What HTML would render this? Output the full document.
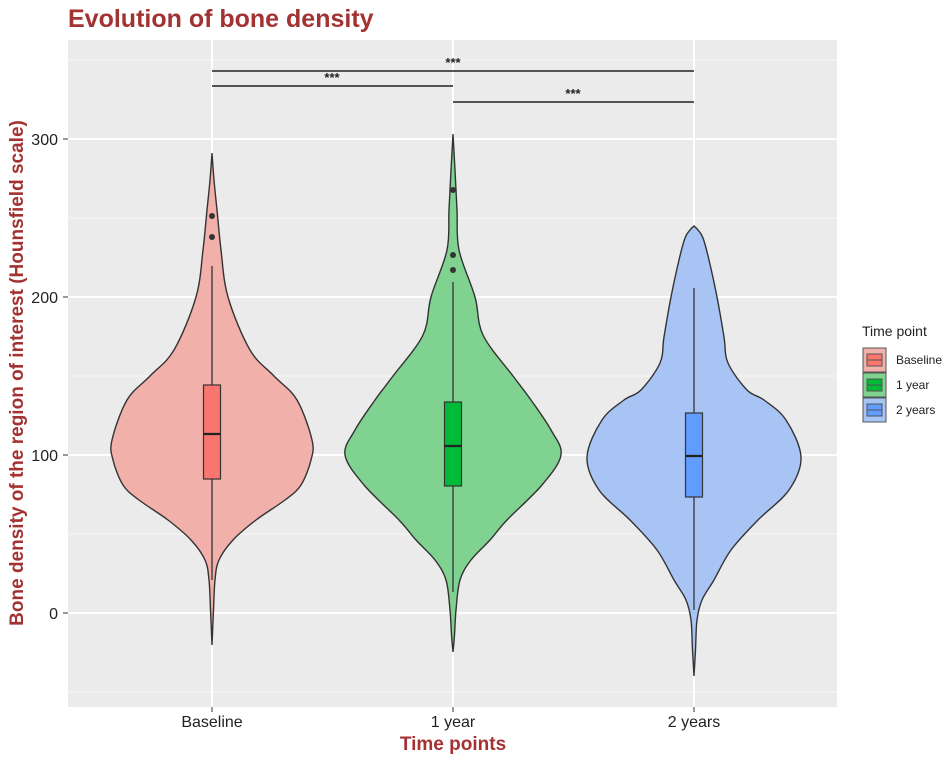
<!DOCTYPE html>
<html><head><meta charset="utf-8">
<style>
html,body{margin:0;padding:0;background:#fff;}
svg{display:block;font-family:"Liberation Sans",Arial,sans-serif;}
</style></head>
<body>
<svg id="s" width="949" height="758" viewBox="0 0 949 758" xmlns="http://www.w3.org/2000/svg">
<rect x="0" y="0" width="949" height="758" fill="#fff"/>
<text x="68" y="27" font-size="25" font-weight="bold" fill="#a33232">Evolution of bone density</text>
<rect x="68" y="40" width="769" height="667" fill="#ebebeb"/>
<g stroke="#f7f7f7" stroke-width="1">
<line x1="68" x2="837" y1="60" y2="60"/><line x1="68" x2="837" y1="218" y2="218"/>
<line x1="68" x2="837" y1="376" y2="376"/><line x1="68" x2="837" y1="534" y2="534"/>
<line x1="68" x2="837" y1="692" y2="692"/>
</g>
<g stroke="#fff" stroke-width="2">
<line x1="68" x2="837" y1="139" y2="139"/><line x1="68" x2="837" y1="297" y2="297"/>
<line x1="68" x2="837" y1="455" y2="455"/><line x1="68" x2="837" y1="613" y2="613"/>
<line x1="212" x2="212" y1="40" y2="707"/><line x1="453" x2="453" y1="40" y2="707"/>
<line x1="694" x2="694" y1="40" y2="707"/>
</g>
<g id="v"></g>
<g stroke="#222" stroke-width="1.6">
<line x1="212" x2="694" y1="71" y2="71"/>
<line x1="212" x2="453" y1="86" y2="86"/>
<line x1="453" x2="694" y1="102" y2="102"/>
</g>
<g font-size="13" font-weight="bold" fill="#222" text-anchor="middle">
<text x="453" y="67">***</text><text x="332" y="82">***</text><text x="573" y="98">***</text>
</g>
<g font-size="16" fill="#222" text-anchor="end">
<text x="58" y="145">300</text><text x="58" y="303">200</text><text x="58" y="461">100</text><text x="58" y="619">0</text>
</g>
<g stroke="#333" stroke-width="1">
<line x1="63" x2="68" y1="139" y2="139"/><line x1="63" x2="68" y1="297" y2="297"/>
<line x1="63" x2="68" y1="455" y2="455"/><line x1="63" x2="68" y1="613" y2="613"/>
<line x1="212" x2="212" y1="707" y2="712"/><line x1="453" x2="453" y1="707" y2="712"/><line x1="694" x2="694" y1="707" y2="712"/>
</g>
<g font-size="16" fill="#222" text-anchor="middle">
<text x="212" y="727">Baseline</text><text x="453" y="727">1 year</text><text x="694" y="727">2 years</text>
</g>
<text x="453" y="750" font-size="19" font-weight="bold" fill="#a33232" text-anchor="middle">Time points</text>
<text transform="translate(23,373) rotate(-90)" font-size="19" font-weight="bold" fill="#a33232" text-anchor="middle">Bone density of the region of interest (Hounsfield scale)</text>
<text x="862" y="336" font-size="14" fill="#222">Time point</text>
<g stroke="#555" stroke-width="1">
<rect x="863" y="348" width="23" height="24" fill="#f2b0aa"/>
<rect x="863" y="373" width="23" height="24" fill="#7fd28f"/>
<rect x="863" y="398" width="23" height="24" fill="#a8c4f5"/>
<rect x="867" y="354" width="15" height="12" fill="#f8766d"/>
<rect x="867" y="379" width="15" height="12" fill="#00ba38"/>
<rect x="867" y="404" width="15" height="12" fill="#619cff"/>
<line x1="867" x2="882" y1="360" y2="360"/><line x1="867" x2="882" y1="385" y2="385"/><line x1="867" x2="882" y1="410" y2="410"/>
</g>
<g font-size="12" fill="#222">
<text x="896" y="364">Baseline</text><text x="896" y="389">1 year</text><text x="896" y="414">2 years</text>
</g>
</svg>
<script>
var data=[
{cx:212,fill:"#f2b0aa",box:"#f8766d",prof:[[153,0],[180,2],[210,5],[250,9],[297,16],[350,38],[376,62],[400,85],[440,100],[460,99],[485,89],[500,73],[520,44],[540,21],[560,7],[580,3],[610,1.5],[645,0]],
 q:[385,434,479],w:[266,580],out:[216,237]},
{cx:453,fill:"#7fd28f",box:"#00ba38",prof:[[134,0],[170,2],[210,4],[250,6],[297,22],[335,30],[376,60],[400,78],[430,98],[455,108],[485,89],[520,54],[540,37],[560,18],[580,7],[610,3],[635,1.5],[652,0]],
 q:[402,446,486],w:[282,592],out:[190,255,270]},
{cx:694,fill:"#a8c4f5",box:"#619cff",prof:[[226,0],[230,4],[238,9],[260,15],[297,23],[337,30],[363,34],[390,53],[400,70],[420,92],[457,107],[490,95],[520,64],[550,37],[580,20],[600,8],[620,3],[650,1.5],[676,0]],
 q:[413,456,497],w:[288,610],out:[]}
];
var ns="http://www.w3.org/2000/svg",g=document.getElementById("v");
function el(t,a){var e=document.createElementNS(ns,t);for(var k in a)e.setAttribute(k,a[k]);g.appendChild(e);return e;}
function cr(pts){var d="M"+pts[0][0]+","+pts[0][1];
for(var i=0;i<pts.length-1;i++){var p0=pts[Math.max(0,i-1)],p1=pts[i],p2=pts[i+1],p3=pts[Math.min(pts.length-1,i+2)];
var c1=[p1[0]+(p2[0]-p0[0])/6,p1[1]+(p2[1]-p0[1])/6],c2=[p2[0]-(p3[0]-p1[0])/6,p2[1]-(p3[1]-p1[1])/6];
d+=" C"+c1[0].toFixed(1)+","+c1[1].toFixed(1)+" "+c2[0].toFixed(1)+","+c2[1].toFixed(1)+" "+p2[0]+","+p2[1];}
return d;}
data.forEach(function(o){
 var r=o.prof.map(function(p){return [o.cx+p[1],p[0]];});
 var l=o.prof.slice().reverse().map(function(p){return [o.cx-p[1],p[0]];});
 var d=cr(r)+" "+cr(l).replace(/^M/,"L")+" Z";
 el("path",{d:d,fill:o.fill,stroke:"#333","stroke-width":1.4});
 el("line",{x1:o.cx,x2:o.cx,y1:o.w[0],y2:o.w[1],stroke:"#333","stroke-width":1.3});
 el("rect",{x:o.cx-8.5,y:o.q[0],width:17,height:o.q[2]-o.q[0],fill:o.box,stroke:"#333","stroke-width":1.2});
 el("line",{x1:o.cx-8.5,x2:o.cx+8.5,y1:o.q[1],y2:o.q[1],stroke:"#222","stroke-width":2.2});
 o.out.forEach(function(y){el("circle",{cx:o.cx,cy:y,r:3,fill:"#333"});});
});
</script>
</body></html>
